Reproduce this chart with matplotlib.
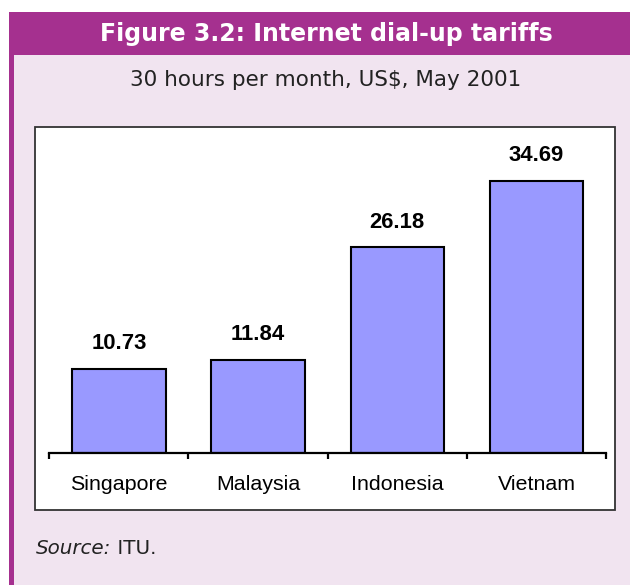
import matplotlib
matplotlib.use('Agg')
import matplotlib.pyplot as plt
from matplotlib.patches import Rectangle

countries = ['Singapore', 'Malaysia', 'Indonesia', 'Vietnam']
tariffs = [10.73, 11.84, 26.18, 34.69]

title = 'Figure 3.2: Internet dial-up tariffs'
subtitle = '30 hours per month, US$, May 2001'

PURPLE = '#A5308F'
PINK = '#F1E4F0'
BAR = '#9999FF'

W, H = 630, 585
fig = plt.figure(figsize=(W / 100, H / 100), dpi=100, facecolor='white')

# background frame drawn in pixel coords
bg = fig.add_axes([0, 0, 1, 1])
bg.set_xlim(0, W)
bg.set_ylim(H, 0)
bg.axis('off')
bg.add_patch(Rectangle((9, 12), W - 9, H - 12, facecolor=PINK, edgecolor='none'))
bg.add_patch(Rectangle((9, 12), 5, H - 12, facecolor=PURPLE, edgecolor='none'))
bg.add_patch(Rectangle((9, 12), W - 9, 43, facecolor=PURPLE, edgecolor='none'))
bg.add_patch(Rectangle((34.5, 127), 580, 383, facecolor='white',
                       edgecolor='#333333', linewidth=1.3))
bg.text(326, 33.5, title, color='white', fontsize=17, fontweight='bold',
        ha='center', va='center', family='DejaVu Sans')
bg.text(326, 80, subtitle, color='#222222', fontsize=15.5,
        ha='center', va='center', family='DejaVu Sans')
t = bg.text(36, 549, 'Source:', color='#222222', fontsize=14.3, style='italic',
            ha='left', va='center', family='DejaVu Sans')
bg.annotate(' ITU.', xycoords=t, xy=(1, 0.5), va='center', ha='left',
            color='#222222', fontsize=14.3, family='DejaVu Sans')

# chart
ax = fig.add_axes([49.3 / W, 1 - 452.7 / H, (606 - 49.3) / W, (452.7 - 139.1) / H])
ax.patch.set_visible(False)
x = range(len(countries))
ax.bar(x, tariffs, width=0.67, color=BAR, edgecolor='black', linewidth=1.5)
for xi, v in zip(x, tariffs):
    ax.annotate(f'{v:.2f}', (xi, v), xytext=(0, 25), textcoords='offset pixels',
                ha='center', va='center', fontsize=15.9, fontweight='bold',
                family='Liberation Sans')
ax.set_xlim(-0.5, 3.5)
ax.set_ylim(0, 40)
for s in ['top', 'right', 'left']:
    ax.spines[s].set_visible(False)
ax.spines['bottom'].set_linewidth(1.6)
ax.set_yticks([])
ax.set_xticks([-0.5, 0.5, 1.5, 2.5, 3.5])
ax.set_xticklabels([])
ax.tick_params(axis='x', direction='out', length=4.5, width=1.6)
for xi, name in zip(x, countries):
    ax.text(xi, -32 / 7.84, name, ha='center', va='center', fontsize=15.4,
            family='Liberation Sans')

fig.savefig('out.png', dpi=100)
